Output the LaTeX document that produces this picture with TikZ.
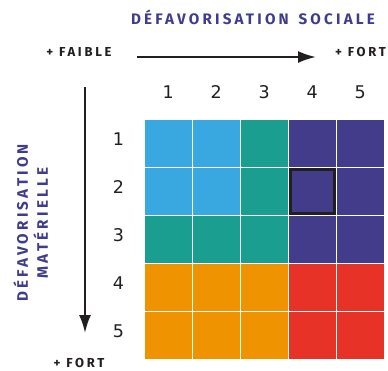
\documentclass[tikz,border=0pt]{standalone}
\usepackage{fontspec}
\setmainfont{Fira Sans}
\newfontfamily\spacedfont[LetterSpace=21]{Fira Sans}
\newfontfamily\digitfont{DejaVu Sans}
\usetikzlibrary{arrows.meta}
\definecolor{cbleu}{HTML}{3AA8E0}
\definecolor{cvert}{HTML}{1A9E8F}
\definecolor{cmauve}{HTML}{433C8B}
\definecolor{corange}{HTML}{F09300}
\definecolor{crouge}{HTML}{E73227}
\definecolor{ctitre}{HTML}{3F3C8E}
\definecolor{cnoir}{HTML}{231F20}
\tikzset{
  >={Latex[length=18pt,width=12pt]},
  cell/.style = {fill=#1, minimum size=46.5pt, inner sep=0},
  titre/.style = {text=ctitre, inner sep=0, align=center,
                  font=\spacedfont\bfseries\fontsize{15.2}{20}\selectfont},
  petit/.style = {text=cnoir, inner sep=0,
                  font=\spacedfont\bfseries\fontsize{13}{15}\selectfont},
  chiffre/.style = {text=cnoir, inner sep=0, anchor=base,
                  font=\digitfont\fontsize{17.5}{20}\selectfont},
  fleche/.style = {->, draw=cnoir, line width=2.2pt},
  choix/.style = {draw=cnoir, line width=2.6pt, minimum size=43.9pt, inner sep=0},
}
\begin{document}
\begin{tikzpicture}[x=1pt,y=-1pt]
\useasboundingbox (0,0) rectangle (388,370);
% titres
\node[titre, anchor=base] (social) at (253,24) {DÉFAVORISATION\hspace{3pt} SOCIALE};
\node[titre, rotate=90] (materiel) at (30.5,223) {DÉFAVORISATION\\MATÉRIELLE};
\node[petit, anchor=base] (faible) at (79,56) {+ FAIBLE};
\node[petit, anchor=base] (fort) at (360.5,56) {+ FORT};
\node[petit, anchor=base] (fortbas) at (79,367) {+ FORT};
% fleches
\coordinate (h0) at (137,57);
\coordinate (h1) at (316,57);
\coordinate (v0) at (85,87);
\coordinate (v1) at (85,333);
\draw[fleche] (h0) -- (h1);
\draw[fleche] (v0) -- (v1);
% grille
\foreach \couleurs [count=\r] in {{cbleu,cbleu,cvert,cmauve,cmauve},
    {cbleu,cbleu,cvert,cmauve,cmauve},{cvert,cvert,cvert,cmauve,cmauve},
    {corange,corange,corange,crouge,crouge},{corange,corange,corange,crouge,crouge}}
  \foreach \c [count=\k] in \couleurs
    \node[cell=\c] (c\r\k) at ({168.25+48*(\k-1)},{143.25+48*(\r-1)}) {};
\node[choix] (choisi) at (c24) {};
% chiffres
\foreach \n in {1,...,5} {
  \node[chiffre] (col\n) at ({168.25+48*(\n-1)},98) {\n};
  \node[chiffre] (lig\n) at (118.5,{145+48*(\n-1)}) {\n};
}
\end{tikzpicture}
\end{document}
